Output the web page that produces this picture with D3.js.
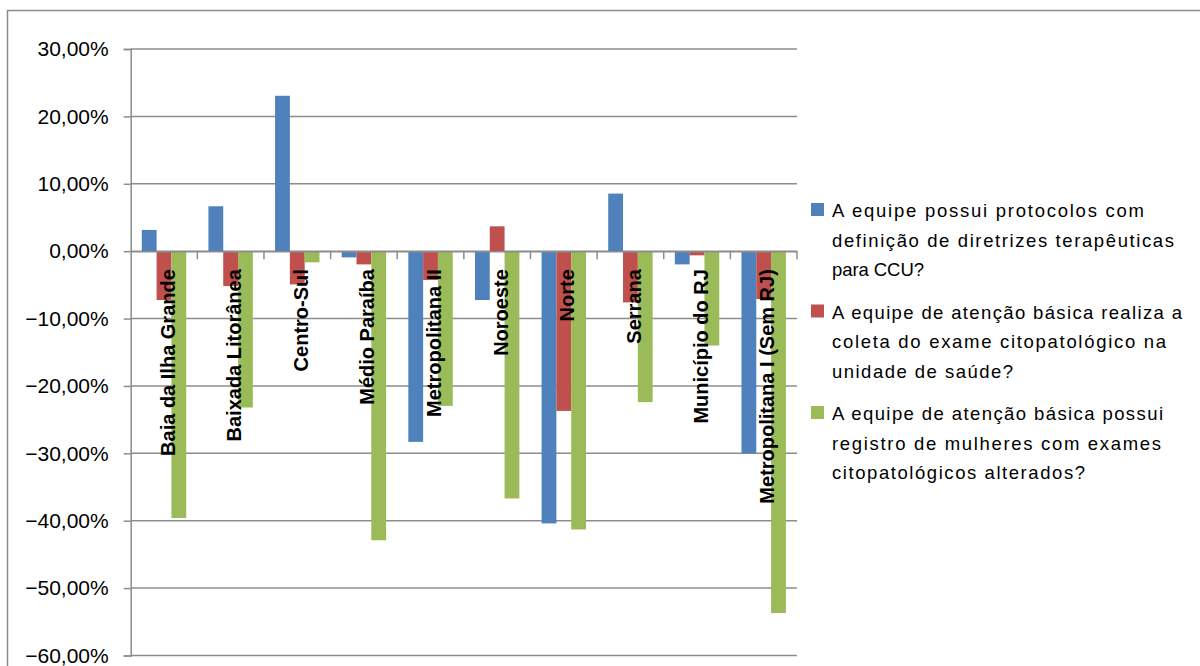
<!DOCTYPE html>
<html>
<head>
<meta charset="utf-8">
<script src="https://cdn.jsdelivr.net/npm/d3@7"></script>
<style>
  html, body { margin: 0; padding: 0; background: #fff; }
  svg { display: block; }
</style>
</head>
<body>
<svg id="chart" width="1200" height="666"></svg>
<script>
// Regions of the state (categories on the x axis)
const categories = [
  "Baia da Ilha Grande", "Baixada Litorânea", "Centro-Sul", "Médio Paraíba",
  "Metropolitana II", "Noroeste", "Norte", "Serrana", "Município do RJ",
  "Metropolitana I (Sem RJ)"
];

// Series names (legend text, already split into lines)
const seriesNames = [
  ["A equipe possui protocolos com", "definição de diretrizes terapêuticas", "para CCU?"],
  ["A equipe de atenção básica realiza a", "coleta do exame citopatológico na", "unidade de saúde?"],
  ["A equipe de atenção básica possui", "registro de mulheres com exames", "citopatológicos alterados?"]
];

// Values per series, in percent
const protocolos = [3.15, 6.66, 23.06, -0.92, -28.3, -7.25, -40.4, 8.54, -1.96, -30.0];
const coleta     = [-7.25, -5.17, -4.93, -1.96, -4.28, 3.69, -23.7, -7.6, -0.62, -7.1];
const registro   = [-39.6, -23.2, -1.66, -42.9, -22.96, -36.7, -41.3, -22.4, -14.0, -53.7];

// Y axis ticks (percent)
const yTicks = [30, 20, 10, 0, -10, -20, -30, -40, -50, -60];

const seriesValues = [protocolos, coleta, registro];

// Styling and layout
const seriesColors = ["#4F81BD", "#C0504D", "#9BBB59"];
const gridColor = "#8c8c8c";
const fontFamily = "'Liberation Sans', Arial, sans-serif";
// rendered width of each legend line, in px
const legendLineWidths = [
  [312, 342, 92],
  [350, 334, 181],
  [331, 329, 253]
];

const svg = d3.select("#chart");

// Chart frame
svg.append("rect")
  .attr("x", 7.5).attr("y", 10.5)
  .attr("width", 1300).attr("height", 800)
  .attr("fill", "#fff")
  .attr("stroke", gridColor).attr("stroke-width", 1.5);

const plot = { left: 130.7, right: 797, top: 49, bottom: 655.5 };

const y = d3.scaleLinear().domain([-60, 30]).range([plot.bottom, plot.top]);
const x = d3.scaleBand().domain(categories).range([plot.left, plot.right]).padding(0);
const xs = d3.scaleBand().domain(d3.range(3)).range([0, x.bandwidth()])
  .paddingInner(0).paddingOuter(0.75);

// Horizontal gridlines
svg.append("g").selectAll("line").data(yTicks).join("line")
  .attr("x1", plot.left).attr("x2", plot.right)
  .attr("y1", d => y(d)).attr("y2", d => y(d))
  .attr("stroke", gridColor).attr("stroke-width", 1.5);

// Y axis with tick labels
const yAxis = d3.axisLeft(y)
  .tickValues(yTicks)
  .tickSize(7)
  .tickPadding(15)
  .tickFormat(d => d3.format(".2f")(d).replace(".", ",") + "%");

const yg = svg.append("g")
  .attr("transform", `translate(${plot.left},0)`)
  .call(yAxis);
yg.select(".domain").attr("stroke", gridColor).attr("stroke-width", 1.5);
yg.selectAll(".tick line").attr("stroke", gridColor).attr("stroke-width", 1.5);
yg.selectAll(".tick text")
  .attr("fill", "#000")
  .style("font-family", fontFamily)
  .style("font-size", "21px");

// Bars
const rows = [];
seriesValues.forEach((vals, s) => {
  vals.forEach((v, i) => rows.push({ s, cat: categories[i], v }));
});

svg.append("g").selectAll("rect").data(rows).join("rect")
  .attr("x", d => x(d.cat) + xs(d.s))
  .attr("width", xs.bandwidth())
  .attr("y", d => y(Math.max(0, d.v)))
  .attr("height", d => Math.abs(y(d.v) - y(0)))
  .attr("fill", d => seriesColors[d.s]);

// Zero line with category boundary ticks
const xAxis = d3.axisBottom(x).tickSize(0).tickFormat("");
const xg = svg.append("g").attr("transform", `translate(0,${y(0)})`).call(xAxis);
xg.select(".domain").attr("stroke", gridColor).attr("stroke-width", 1.5);
xg.selectAll(".tick").remove();

const bounds = categories.map(c => x(c)).concat([plot.right]);
svg.append("g").selectAll("line").data(bounds.slice(1)).join("line")
  .attr("x1", d => d).attr("x2", d => d)
  .attr("y1", y(0)).attr("y2", y(0) + 8)
  .attr("stroke", gridColor).attr("stroke-width", 1.5);

// Category labels, rotated, drawn over the bars
svg.append("g").selectAll("text").data(categories).join("text")
  .attr("transform", d => `translate(${x(d) + x.bandwidth() / 2 + 10.5},${y(0) + 18}) rotate(-90)`)
  .attr("text-anchor", "end")
  .style("font-family", fontFamily)
  .style("font-weight", "bold")
  .style("font-size", "20px")
  .attr("fill", "#000")
  .text(d => d);

// Legend
const legend = svg.append("g");
const legendBaselines = [217, 318.5, 420];
const lineGap = 29.5;

seriesNames.forEach((lines, s) => {
  const by = legendBaselines[s];
  legend.append("rect")
    .attr("x", 811).attr("y", by - 14)
    .attr("width", 13).attr("height", 13)
    .attr("fill", seriesColors[s]);
  lines.forEach((ln, k) => {
    legend.append("text")
      .attr("x", 832).attr("y", by + k * lineGap)
      .attr("textLength", legendLineWidths[s][k])
      .attr("lengthAdjust", "spacing")
      .style("font-family", fontFamily)
      .style("font-size", "18.5px")
      .attr("fill", "#000")
      .text(ln);
  });
});
</script>
</body>
</html>
